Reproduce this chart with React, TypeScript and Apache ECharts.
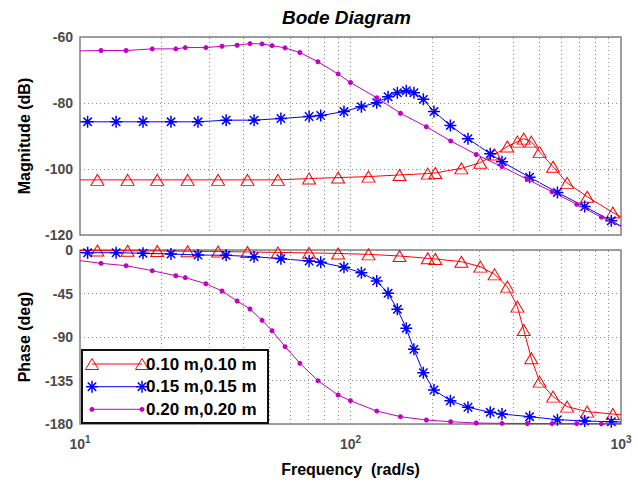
import React, { useEffect, useRef } from 'react';
import * as echarts from 'echarts';

const seriesNames = ['0.10 m,0.10 m', '0.15 m,0.15 m', '0.20 m,0.20 m'];
const gridFreqs = [20, 30, 40, 50, 60, 70, 80, 90, 100, 200, 300, 400, 500, 600, 700, 800, 900];

const redFreq = [10, 11.6, 15.0, 19.3, 25, 32.4, 41.6, 53.9, 70.3, 90, 116.6, 151.8, 193, 205.8, 257, 302, 341, 380, 414, 437, 466, 500, 561, 632, 750, 933, 1000];
const redMag = [-103.3, -103.3, -103.3, -103.3, -103.3, -103.3, -103.3, -103.3, -102.9, -102.6, -102.3, -101.8, -101.4, -101.2, -99.8, -98.1, -95.6, -93.2, -91.7, -90.8, -91.7, -94.8, -99.3, -104.2, -108.4, -113.2, -114.5];
const redPhase = [-0.5, -0.6, -0.8, -1.0, -1.3, -1.6, -2.0, -2.5, -3.0, -3.6, -4.5, -6.2, -8.6, -9.3, -12.1, -17.2, -25.2, -37.9, -58.6, -82.8, -112, -136.2, -151.7, -162, -167.2, -169.7, -170.5];

const blueFreq = [10, 10.67, 13.6, 17.1, 21.7, 27.3, 34.7, 44, 55.3, 70.3, 77.6, 94.6, 109.7, 125, 137.7, 149, 160.8, 171.6, 185.9, 203.5, 234, 271.8, 328.5, 363, 459.5, 582, 734, 921, 1000];
const blueMag = [-85.7, -85.7, -85.7, -85.7, -85.7, -85.7, -85.2, -85.2, -84.7, -84.1, -83.8, -82.6, -81.1, -79.9, -78.1, -76.9, -76.3, -76.9, -78.9, -82.6, -86.8, -90.8, -95.4, -97.8, -102.5, -107.1, -111.4, -115.7, -117.3];
const bluePhase = [-2.6, -2.8, -2.8, -3.4, -4.1, -5.2, -5.5, -6.9, -9, -11.4, -12.8, -17.9, -23.5, -32.1, -44.8, -61.4, -81, -102.8, -126.9, -144.8, -155.9, -162.7, -167.9, -169.7, -172.4, -175.5, -176.9, -177.6, -177.9];

const magFreq = [10, 11.96, 14.8, 18.5, 22.6, 24.5, 29.2, 33.5, 38.1, 42.5, 47.1, 51.3, 57.3, 65, 75.8, 90, 100, 125, 153, 190.7, 234.6, 291.6, 363, 450.5, 556, 686, 846, 1000];
const magMag = [-64.2, -64.1, -64.1, -63.6, -63.6, -63.2, -63.2, -62.8, -62.5, -62.0, -62.1, -62.6, -63.3, -64.7, -67.5, -71.2, -73.8, -78.4, -83.1, -87.2, -91.5, -95.6, -99.3, -103.1, -106.9, -110.7, -114.6, -117.4];
const magPhase = [-11, -13.8, -16.2, -21.4, -26.6, -28.6, -34.9, -42.4, -52.8, -61, -72.8, -83.5, -100, -117.2, -135.2, -150, -155.9, -166.6, -172.4, -175.9, -177.6, -179, -179.3, -179.5, -179.6, -179.7, -179.8, -179.8];

const FONT = '"Liberation Sans", Arial, sans-serif';
const RED = '#ff0000';
const BLUE = '#0000ff';
const MAG = '#c400c4';
const GRIDC = '#8a8a8a';
const TICKC = '#4a4a4a';
const STAR = 'path://M6,0 L6,12 M0,6 L12,6 M1.8,1.8 L10.2,10.2 M1.8,10.2 L10.2,1.8';

function pts(freq: number[], vals: number[]) {
  return freq.map((f, i) =>
    i === 0 || i === freq.length - 1 ? { value: [f, vals[i]], symbol: 'none' } : { value: [f, vals[i]] }
  );
}

const styles = [
  { color: RED, symbol: 'triangle', symbolSize: [13, 11], itemStyle: { color: 'rgba(0,0,0,0)', borderColor: RED, borderWidth: 1 } },
  { color: BLUE, symbol: STAR, symbolSize: 12, itemStyle: { color: BLUE, borderColor: BLUE, borderWidth: 1.5 } },
  { color: MAG, symbol: 'circle', symbolSize: 5, itemStyle: { color: MAG, borderWidth: 0 } },
];

function makeSeries(idx: number, sets: [number[], number[]][]) {
  return sets.map(([f, v], k) => ({
    type: 'line',
    name: seriesNames[k],
    xAxisIndex: idx,
    yAxisIndex: idx,
    data: pts(f, v),
    symbol: styles[k].symbol,
    symbolSize: styles[k].symbolSize,
    showAllSymbol: true,
    itemStyle: styles[k].itemStyle,
    lineStyle: { color: styles[k].color, width: 1 },
    z: 3 + k,
  }));
}

function gridSeries(idx: number) {
  return {
    type: 'line',
    xAxisIndex: idx,
    yAxisIndex: idx,
    data: [],
    silent: true,
    z: 1,
    markLine: {
      silent: true,
      symbol: ['none', 'none'],
      label: { show: false },
      lineStyle: { color: GRIDC, type: [1, 3], width: 1 },
      data: gridFreqs.map((f) => ({ xAxis: f })),
      animation: false,
    },
  };
}

const tickLabel = { fontFamily: FONT, fontSize: 14, fontWeight: 'bold', color: TICKC, margin: 7 };
const nameStyle = { fontFamily: FONT, fontSize: 16, fontWeight: 'bold', color: '#000' };

function legendGraphic() {
  const els: any[] = [];
  els.push({ type: 'rect', shape: { x: 82, y: 350, width: 186, height: 73 }, style: { fill: '#fff', stroke: '#111', lineWidth: 2 }, z: 100 });
  const ys = [364, 386.7, 409.3];
  const cols = [RED, BLUE, MAG];
  const x1 = 92, x2 = 142;
  ys.forEach((y, k) => {
    els.push({ type: 'line', shape: { x1, y1: y, x2, y2: y }, style: { stroke: cols[k], lineWidth: 1 }, z: 101 });
    [x1, x2].forEach((x) => {
      if (k === 0) {
        els.push({ type: 'polygon', shape: { points: [[x - 6.5, y + 5.5], [x, y - 5.5], [x + 6.5, y + 5.5]] }, style: { fill: 'none', stroke: RED, lineWidth: 1 }, z: 102 });
      } else if (k === 1) {
        const r = 6, d = 4.2;
        [[0, -r, 0, r], [-r, 0, r, 0], [-d, -d, d, d], [-d, d, d, -d]].forEach(([a, b, c, e]) => {
          els.push({ type: 'line', shape: { x1: x + a, y1: y + b, x2: x + c, y2: y + e }, style: { stroke: BLUE, lineWidth: 1.5 }, z: 102 });
        });
      } else {
        els.push({ type: 'circle', shape: { cx: x, cy: y, r: 2.5 }, style: { fill: MAG }, z: 102 });
      }
    });
    els.push({ type: 'text', x: 146, y, style: { text: seriesNames[k], font: `bold 17px ${FONT}`, fill: '#000', textVerticalAlign: 'middle', verticalAlign: 'middle' }, z: 103 });
  });
  return els;
}

export default function App() {
  const ref = useRef<HTMLDivElement>(null);
  useEffect(() => {
    document.body.style.margin = '0';
    const chart = echarts.init(ref.current!, undefined, { renderer: 'svg' });
    const xBase = {
      type: 'log',
      logBase: 10,
      min: 10,
      max: 1000,
      axisLine: { show: false },
      axisTick: { show: false },
      splitLine: { show: false },
    };
    const yBase = {
      type: 'value',
      nameLocation: 'middle',
      nameTextStyle: nameStyle,
      axisLine: { show: false },
      axisTick: { show: false },
      axisLabel: tickLabel,
      splitLine: { show: true, lineStyle: { color: GRIDC, type: [1, 3], width: 1 } },
    };
    chart.setOption({
      animation: false,
      backgroundColor: '#fff',
      title: {
        text: 'Bode Diagram',
        left: 282,
        top: 8,
        padding: 0,
        textStyle: { fontFamily: FONT, fontSize: 19, fontWeight: 'bold', fontStyle: 'italic', color: '#000' },
      },
      grid: [
        { left: 80, top: 37, width: 541, height: 198, show: true, borderColor: '#808080', borderWidth: 1.5, backgroundColor: '#fff' },
        { left: 80, top: 250, width: 541, height: 174, show: true, borderColor: '#808080', borderWidth: 1.5, backgroundColor: '#fff' },
      ],
      xAxis: [
        { ...xBase, gridIndex: 0, axisLabel: { show: false } },
        {
          ...xBase,
          gridIndex: 1,
          name: 'Frequency  (rad/s)',
          nameLocation: 'middle',
          nameGap: 37,
          nameTextStyle: nameStyle,
          axisLabel: {
            margin: 10,
            formatter: (v: number) => `{b|10}{s|${Math.round(Math.log10(v))}}`,
            rich: {
              b: { fontFamily: FONT, fontSize: 14, fontWeight: 'bold', color: TICKC },
              s: { fontFamily: FONT, fontSize: 10, fontWeight: 'bold', color: TICKC, padding: [0, 0, 9, 0] },
            },
          },
        },
      ],
      yAxis: [
        { ...yBase, gridIndex: 0, min: -120, max: -60, interval: 20, name: 'Magnitude (dB)', nameGap: 48 },
        { ...yBase, gridIndex: 1, min: -180, max: 0, interval: 45, name: 'Phase (deg)', nameGap: 48 },
      ],
      series: [
        gridSeries(0),
        gridSeries(1),
        ...makeSeries(0, [[redFreq, redMag], [blueFreq, blueMag], [magFreq, magMag]]),
        ...makeSeries(1, [[redFreq, redPhase], [blueFreq, bluePhase], [magFreq, magPhase]]),
      ],
      graphic: legendGraphic(),
    });
    return () => chart.dispose();
  }, []);
  return <div ref={ref} style={{ width: 638, height: 484 }} />;
}
